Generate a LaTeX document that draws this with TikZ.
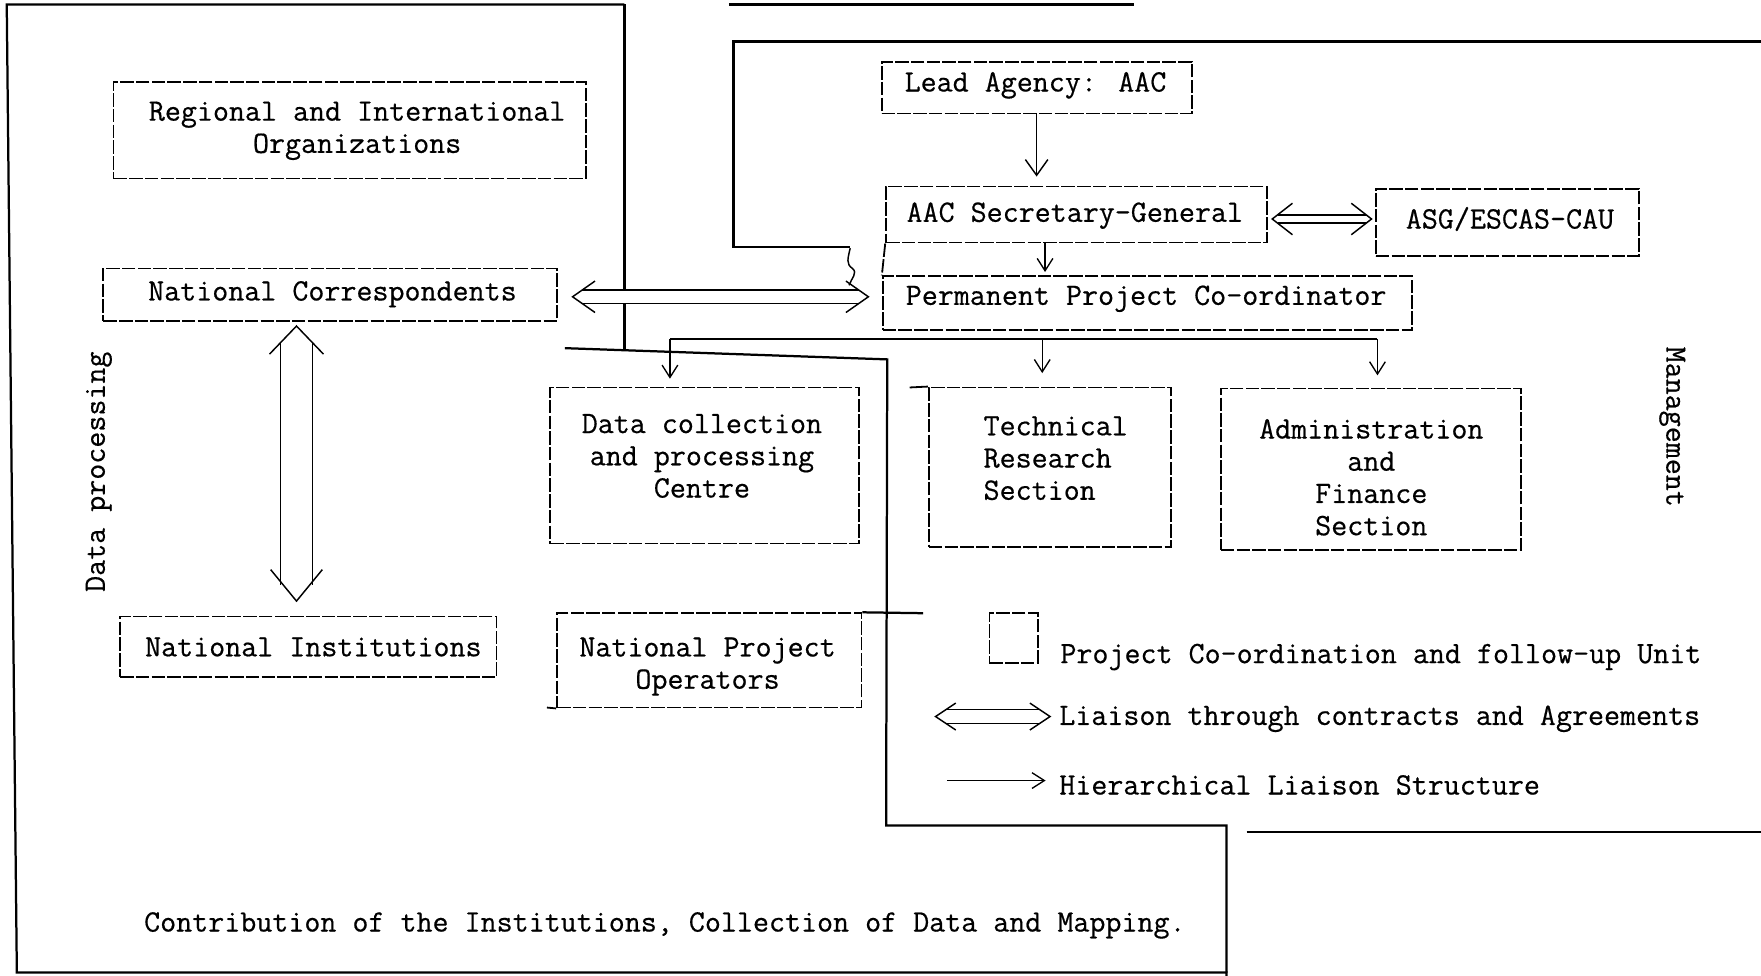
\documentclass[tikz,border=0pt]{standalone}
\usepackage{fontspec}
\newfontfamily\twfont{Latin Modern Mono}[FakeBold=0.5]
\usetikzlibrary{arrows.meta,calc}
\begin{document}
\begin{tikzpicture}[x=1pt,y=-1pt,
  txt/.style={font=\fontsize{27.7}{28.7}\selectfont\twfont, inner sep=0pt, align=center},
  boxs/.style={draw, line width=1.6pt, dash pattern=on 12pt off 2pt, inner sep=0pt},
  frame/.style={line width=2pt, line join=miter},
  hier/.style={line width=1.3pt, -{Straight Barb[length=14pt,width=20pt]}},
  hiersmall/.style={line width=1.2pt, -{Straight Barb[length=11pt,width=14pt]}},
  dblline/.style={line width=1.2pt, double=white, double distance=#1},
  pics/chev/.style args={#1/#2}{code={\draw[line width=1.3pt, line join=miter] (-#1,#2) -- (0,0) -- (-#1,-#2);}}
]
\useasboundingbox[fill=white] (0,0) rectangle (1568,869);

% ---------- frames ----------
\draw[frame] (556,4) -- (6,4) -- (15,866) -- (1092,866) -- (1092,869);
\draw[frame] (556,4) -- (556,311);
\draw[frame] (503,310) -- (790,320) -- (789,735) -- (1092,735) -- (1092,866);
\draw[frame] (757,220) -- (653,220) -- (653,37) -- (1568,37);
\draw[frame] (1110,741) -- (1568,741);
\draw[line width=2.6pt] (649,4) -- (1010,4);
\draw[line width=1.3pt] (757,221) .. controls (755,230) and (753,235) .. (759,239) .. controls (764,243) and (758,248) .. (756,254);

% ---------- boxes ----------
\node[boxs, minimum width=421, minimum height=86] (regional) at (311.5,116) {};
\node[boxs, minimum width=404, minimum height=46.5] (nc) at (294,262.25) {};
\node[boxs, minimum width=335, minimum height=53.5] (ni) at (274.5,575.75) {};
\node[boxs, minimum width=275, minimum height=139] (dc) at (627.5,414.5) {};
\node[boxs, minimum width=271, minimum height=84] (npo) at (631.5,588) {};
\node[boxs, minimum width=276, minimum height=46] (lead) at (923,78) {};
\node[boxs, minimum width=339, minimum height=50] (sg) at (958.5,191) {};
\node[boxs, minimum width=234, minimum height=60] (asg) at (1342,198) {};
\node[boxs, minimum width=471, minimum height=48] (ppc) at (1021.5,270) {};
\node[boxs, minimum width=216, minimum height=142] (tech) at (935,416) {};
\node[boxs, minimum width=267, minimum height=144] (admin) at (1220.5,418) {};
\node[boxs, minimum width=43, minimum height=44] (legbox) at (902.5,568) {};

% box extensions
\draw[frame] (npo.north east) -- (822,546);
\draw[line width=1.6pt] (npo.south west) -- (487,630);
\draw[line width=1.6pt] (tech.north west) -- (810,345);
\draw[boxs] (sg.south west) -- (ppc.north west);

% ---------- texts ----------
\node[txt] (regionalt) at (318,116.5) {Regional and International\\Organizations};
\node[txt] (nct) at (296,262) {National Correspondents};
\node[txt] (nit) at (279,576) {National Institutions};
\node[txt] (dct) at (625,406) {Data collection\\and processing\\Centre};
\node[txt] (npot) at (630,593.5) {National Project\\Operators};
\node[txt] (leadt) at (922,76) {Lead Agency: AAC};
\node[txt] (sgt) at (957,192) {AAC Secretary-General};
\node[txt] (asgt) at (1344.5,195) {ASG/ESCAS-CAU};
\node[txt] (ppct) at (1020.5,266) {Permanent Project Co-ordinator};
\node[txt, align=left] (techt) at (940,408) {Technical\\Research\\Section};
\node[txt] (admint) at (1221,425) {Administration\\and\\Finance\\Section};
\node[txt, rotate=90] (dp) at (88,420) {Data processing};
\node[txt, rotate=-90] (mg) at (1489,380) {Management};
\node[txt] (caption) at (592,824) {Contribution of the Institutions, Collection of Data and Mapping.};
\node[txt, anchor=west] (leg1) at (944,585) {Project Co-ordination and follow-up Unit};
\node[txt, anchor=west] (leg2) at (943,640) {Liaison through contracts and Agreements};
\node[txt, anchor=west] (leg3) at (943,699) {Hierarchical Liaison Structure};

% ---------- hierarchical arrows ----------
\draw[hier, shorten >=8pt] (lead.south) -- (lead.south |- sg.north);
\coordinate (sgp) at ($(sg.south)+(-28,0)$);
\draw[hiersmall, shorten >=3pt] (sgp) -- (sgp |- ppc.north);

\coordinate (busL) at ($(ppc.south -| dc.north)+(-31,7)$);
\coordinate (busM) at ($(busL -| tech.north)+(-7,0)$);
\coordinate (busR) at ($(busL -| admin.north)+(6,0)$);
\draw[line width=1.4pt] (busL) -- (busR);
\coordinate (dcTop) at (busL |- dc.north);
\coordinate (techTop) at (busM |- tech.north);
\coordinate (adminTop) at (busR |- admin.north);
\draw[hiersmall, shorten >=7pt] (busL) -- (dcTop);
\draw[hiersmall, shorten >=12pt] (busM) -- (techTop);
\draw[hiersmall, shorten >=11pt] (busR) -- (adminTop);

% ---------- double arrows ----------
\coordinate (nca) at ($(nc.east)+(13,2)$);
\coordinate (ppca) at ($(nca -| ppc.west)+(-12,0)$);
\draw[dblline=11pt, shorten <=8pt, shorten >=8pt] (nca) -- (ppca);
\pic[rotate=180] at (nca) {chev=20/14};
\pic at (ppca) {chev=20/14};

\coordinate (vt) at ($(nc.south)+(-30,4)$);
\coordinate (vb) at ($(ni.north)+(-10.5,-13)$);
\draw[dblline=27pt, shorten <=14pt, shorten >=14pt] (vt) -- (vb);
\pic[rotate=90] at (vt) {chev=25/24};
\pic[rotate=-90] at (vb) {chev=28/23};

\coordinate (sga) at ($(sg.east)+(4,4)$);
\coordinate (asga) at ($(sga -| asg.west)+(-3,0)$);
\draw[dblline=6pt, shorten <=5pt, shorten >=5pt] (sga) -- (asga);
\pic[rotate=180] at (sga) {chev=18/14};
\pic at (asga) {chev=18/14};

% ---------- legend arrows ----------
\coordinate (l2a) at ($(leg2.west)+(-110,-2)$);
\coordinate (l2b) at ($(leg2.west)+(-8,-2)$);
\draw[dblline=11pt, shorten <=9pt, shorten >=9pt] (l2a) -- (l2b);
\pic[rotate=180] at (l2a) {chev=18/12};
\pic at (l2b) {chev=18/12};

\coordinate (l3a) at ($(leg3.west)+(-100,-4)$);
\coordinate (l3b) at ($(leg3.west)+(-12,-4)$);
\draw[hiersmall] (l3a) -- (l3b);
\end{tikzpicture}
\end{document}
